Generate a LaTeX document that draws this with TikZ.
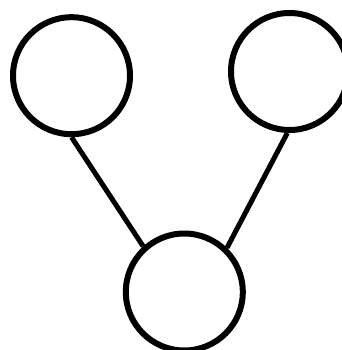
\documentclass[tikz,border=0pt]{standalone}
\begin{document}
\begin{tikzpicture}[x=1pt,y=-1pt,
  ball/.style={circle,draw=black,line width=6pt,minimum size=117pt,inner sep=0pt,fill=white},
  link/.style={draw=black,line width=5pt}]
\useasboundingbox (0,0) rectangle (341,350);
\node[ball] (L) at (71.5,75.7) {};
\node[ball] (R) at (289.5,71.5) {};
\node[ball] (B) at (184.3,292) {};
\draw[link] (L.south) -- (B.132.6);
\draw[link] (R.-92) -- (B.46);
\end{tikzpicture}
\end{document}
